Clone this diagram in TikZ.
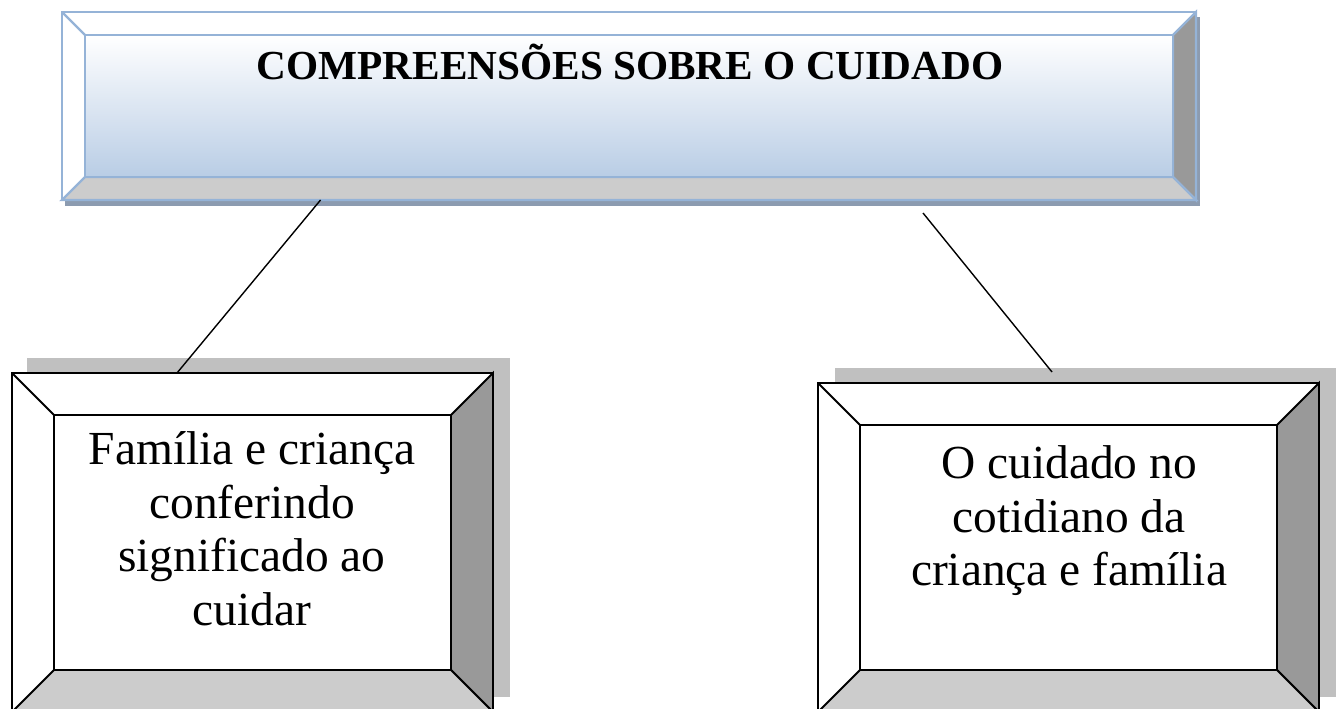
\documentclass[tikz,border=0pt]{standalone}
\usepackage{fontspec}
\setmainfont{Liberation Serif}
\usepackage{xcolor}
\usetikzlibrary{positioning, calc}

\definecolor{bordo}{RGB}{149,179,215}
\definecolor{azul}{RGB}{185,205,229}
\definecolor{sombra}{RGB}{140,155,176}
\definecolor{cinzaesc}{RGB}{153,153,153}
\definecolor{cinzacl}{RGB}{204,204,204}
\definecolor{cinzasomb}{RGB}{192,192,192}

% moldura: nome, x1, y1, x2, y2, chanfro, linha, miolo
\newcommand{\moldura}[8]{%
  \coordinate (#1-nw) at (#2,#3);
  \coordinate (#1-ne) at (#4,#3);
  \coordinate (#1-se) at (#4,#5);
  \coordinate (#1-sw) at (#2,#5);
  \coordinate (#1-inw) at (#2+#6,#3+#6);
  \coordinate (#1-ine) at (#4-#6,#3+#6);
  \coordinate (#1-ise) at (#4-#6,#5-#6);
  \coordinate (#1-isw) at (#2+#6,#5-#6);
  \filldraw[#7, fill=white] (#1-nw) -- (#1-ne) -- (#1-se) -- (#1-sw) -- cycle;
  \filldraw[#7, fill=cinzaesc] (#1-ne) -- (#1-se) -- (#1-ise) -- (#1-ine) -- cycle;
  \filldraw[#7, fill=cinzacl] (#1-sw) -- (#1-se) -- (#1-ise) -- (#1-isw) -- cycle;
  \draw[#7] (#1-nw) -- (#1-inw);
  \path[#8] (#1-inw) rectangle (#1-ise);
  \draw[#7] (#1-inw) rectangle (#1-ise);
}

\tikzset{
  linhaazul/.style={draw=bordo, line width=1.3pt, line join=miter},
  linhapreta/.style={draw=black, line width=1.1pt, line join=miter},
  miolo/.style={top color=white, bottom color=azul},
  mioloB/.style={fill=white},
  texto/.style={inner sep=0pt, align=center, font=\fontsize{27}{30.6}\selectfont},
  liga/.style={line width=0.8pt}
}

\begin{document}
\begin{tikzpicture}[x=0.02cm, y=-0.02cm]
\clip (0,0) rectangle (1337,709);

% sombras
\fill[sombra] (65,17) rectangle (1200,206);
\fill[cinzasomb] (27,358) rectangle (510,697);
\fill[cinzasomb] (835,368) rectangle (1336,697);

% caixas
\moldura{topo}{62}{12}{1196}{200}{23}{linhaazul}{miolo}
\moldura{esq}{12}{373}{493}{712}{42}{linhapreta}{mioloB}
\moldura{dir}{818}{383}{1319}{712}{42}{linhapreta}{mioloB}

% textos
\node[inner sep=0pt, anchor=base, font=\bfseries\fontsize{23.5}{28}\selectfont] (titulo) at (630,80) {COMPREENSÕES SOBRE O CUIDADO};
\node[texto, anchor=north] (familia) at (252,431) {Família e criança\\conferindo\\significado ao\\cuidar};
\node[texto, anchor=north] (cotidiano) at (1069,445) {O cuidado no\\cotidiano da\\criança e família};

% ligacoes
\coordinate (ligaE1) at ($(topo-sw)!0.228!(topo-se)$);
\coordinate (ligaE2) at ($(esq-nw)!0.343!(esq-ne)$);
\coordinate (ligaD1) at (923,213);
\coordinate (ligaD2) at (1052,372);
\draw[liga] (ligaE1) -- (ligaE2);
\draw[liga] (ligaD1) -- (ligaD2);

\end{tikzpicture}
\end{document}
